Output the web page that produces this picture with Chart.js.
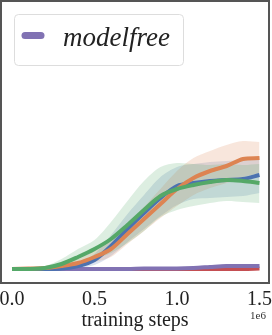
<!DOCTYPE html>
<html lang="en">
<head>
  <meta charset="UTF-8">
  <title>modelfree</title>
  <script src="https://cdn.jsdelivr.net/npm/chart.js"></script>
  <style>
    html, body { margin: 0; padding: 0; background: #fff; }
    #wrap { width: 272px; height: 335px; position: relative; }
  </style>
</head>
<body>
<div id="wrap"><canvas id="chart"></canvas></div>

<script>
  // training steps (x 1e6)
  const steps = [0.0, 0.1, 0.2, 0.3, 0.4, 0.5, 0.6, 0.7, 0.8, 0.9, 1.0, 1.1, 1.2, 1.3, 1.4, 1.5];
  const xTicks = [0.0, 0.5, 1.0, 1.5];

  const blueMean   = [0, 0, 0, 0.5, 3, 9, 23, 40, 56, 71, 83, 86, 88, 89, 90, 94];
  const blueHi     = [0, 0.5, 1, 2, 6, 15, 34, 55, 74, 92, 102, 105, 107, 108, 109, 112];
  const blueLo     = [0, 0, 0, 0, 1, 4, 13, 27, 40, 53, 64, 70, 71, 72, 73, 76];

  const orangeMean = [0, 0.5, 1, 3, 6, 12, 20, 35, 50, 65, 80, 91, 98, 103, 110, 111];
  const orangeHi   = [0, 1, 2, 5, 10, 18, 29, 45, 62, 80, 98, 111, 118, 124, 128, 127];
  const orangeLo   = [0, 0, 0, 1, 3, 7, 12, 25, 38, 51, 63, 74, 81, 86, 92, 96];

  const greenMean  = [0, 0, 1, 5, 12, 20, 30, 44, 59, 73, 80, 84, 87, 89, 88, 86];
  const greenHi    = [0, 1, 3, 10, 20, 29, 47, 68, 88, 102, 106, 105, 104, 105, 104, 105];
  const greenLo    = [0, 0, 0, 1, 5, 10, 16, 26, 38, 52, 59, 63, 66, 68, 67, 66];

  const redMean    = [0, 0, 0, 0, 0, 0, 0, 0, 0, 0, 0, 0, 0, 0, 0, 0.5];
  const redHi      = [1, 1, 1, 1, 1, 1, 1, 1, 1, 1, 1, 1, 1, 1, 1, 1.5];
  const redLo      = [-1, -1, -1, -1, -1, -1, -1, -1, -1, -1, -1, -1, -1, -1, -1, -0.5];

  const purpleMean = [0, 0, 0, 0, 0, 0, 0, 0, 0.5, 0.5, 0.5, 1, 2, 3, 3, 3];
  const purpleHi   = [1, 1, 1, 1, 1, 1, 1, 1, 1.5, 1.5, 2, 2.5, 4, 5, 5, 5];
  const purpleLo   = [-1, -1, -1, -1, -1, -1, -1, -1, -0.5, -0.5, -0.5, 0, 0.5, 1, 1, 1];

  const series = [
    { label: "green",  color: "#55a868", mean: greenMean,  hi: greenHi,  lo: greenLo },
    { label: "orange", color: "#dd8452", mean: orangeMean, hi: orangeHi, lo: orangeLo },
    { label: "blue",   color: "#4c72b0", mean: blueMean,   hi: blueHi,   lo: blueLo },
    { label: "modelfree", color: "#8172b3", mean: purpleMean, hi: purpleHi, lo: purpleLo },
    { label: "red",    color: "#c44e52", mean: redMean,    hi: redHi,    lo: redLo }
  ];

  const pts = arr => arr.map((v, i) => ({ x: steps[i], y: v }));
  const alpha = (hex, a) => {
    const n = parseInt(hex.slice(1), 16);
    return `rgba(${n >> 16},${(n >> 8) & 255},${n & 255},${a})`;
  };

  let datasets = [];
  // lines first (drawn on top)
  series.forEach(s => {
    datasets.push({ label: s.label, data: pts(s.mean), borderColor: s.color, borderWidth: 4,
      pointRadius: 0, tension: 0.3, fill: false, order: 0 });
  });
  // bands
  series.forEach(s => {
    datasets.push({ label: s.label + " hi", data: pts(s.hi), borderWidth: 0, borderColor: "transparent",
      pointRadius: 0, tension: 0.3, fill: "+1", backgroundColor: alpha(s.color, 0.2), order: 1 });
    datasets.push({ label: s.label + " lo", data: pts(s.lo), borderWidth: 0, borderColor: "transparent",
      pointRadius: 0, tension: 0.3, fill: false, order: 1 });
  });

  const serif = "'Liberation Serif', 'DejaVu Serif', serif";

  const frame = {
    id: "frame",
    afterDraw(chart) {
      const { ctx, chartArea: a } = chart;
      ctx.save();
      ctx.strokeStyle = "#555";
      ctx.lineWidth = 2;
      ctx.strokeRect(a.left, a.top, a.right - a.left, a.bottom - a.top);

      // legend
      const bx = 14, by = 14, bw = 169, bh = 51, r = 4;
      ctx.beginPath();
      ctx.roundRect(bx + 0.5, by + 0.5, bw, bh, r);
      ctx.fillStyle = "rgba(255,255,255,0.8)";
      ctx.fill();
      ctx.strokeStyle = "#dddddd";
      ctx.lineWidth = 1;
      ctx.stroke();
      ctx.beginPath();
      ctx.moveTo(25, 35.5);
      ctx.lineTo(41, 35.5);
      ctx.strokeStyle = "#8172b3";
      ctx.lineWidth = 7;
      ctx.lineCap = "round";
      ctx.stroke();
      ctx.fillStyle = "#222";
      ctx.font = "italic 27px " + serif;
      ctx.textBaseline = "alphabetic";
      ctx.fillText("modelfree", 63, 46);

      // offset text
      ctx.font = "11px " + serif;
      ctx.textAlign = "center";
      ctx.textBaseline = "middle";
      ctx.fillStyle = "#333";
      ctx.fillText("1e6", 258, 316);
      ctx.restore();
    }
  };

  new Chart(document.getElementById("chart"), {
    type: "line",
    data: { datasets },
    options: {
      responsive: true,
      maintainAspectRatio: false,
      animation: false,
      layout: { padding: { left: 1, right: 3, top: 1, bottom: 4 } },
      plugins: { legend: { display: false }, tooltip: { enabled: false } },
      scales: {
        x: {
          type: "linear",
          min: -0.0667,
          max: 1.5576,
          afterBuildTicks: axis => { axis.ticks = xTicks.map(v => ({ value: v })); },
          afterFit: axis => { axis.paddingLeft = 0; axis.paddingRight = 0; axis.height = 48; },
          grid: { display: false, drawTicks: false },
          border: { display: false },
          ticks: { padding: 7, color: "#222", font: { family: serif, size: 20, lineHeight: 1 },
            maxRotation: 0, callback: v => Number(v).toFixed(1) },
          title: { display: true, text: "training steps", color: "#222",
            font: { family: serif, size: 20, lineHeight: 1 }, padding: { top: 1, bottom: 0 } }
        },
        y: {
          display: false,
          min: -14,
          max: 268
        }
      }
    },
    plugins: [frame]
  });
</script>
</body>
</html>
